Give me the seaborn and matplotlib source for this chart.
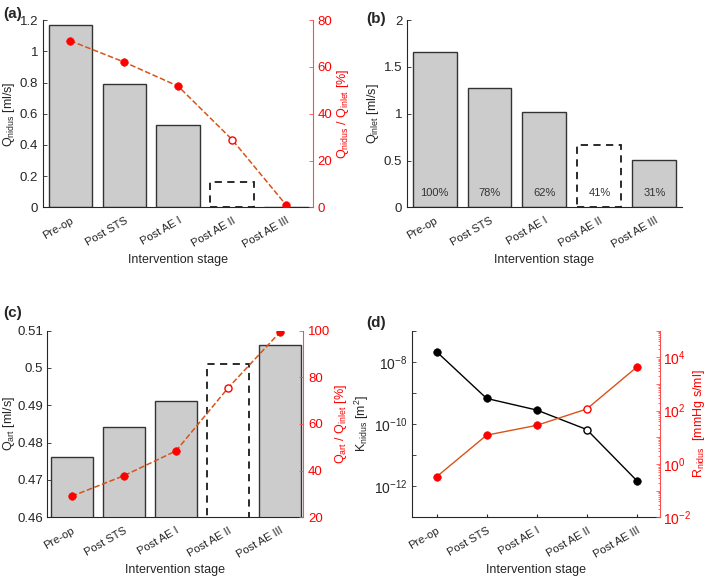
import numpy as np
import pandas as pd
import matplotlib
matplotlib.use('Agg')
import matplotlib.pyplot as plt
import seaborn as sns

sns.set_style('ticks')
plt.rcParams['font.family'] = ['Liberation Sans', 'DejaVu Sans']
plt.rcParams['mathtext.default'] = 'regular'
plt.rcParams['xtick.direction'] = 'in'
plt.rcParams['ytick.direction'] = 'in'
plt.rcParams['axes.linewidth'] = 0.8

# data
stages = ['Pre-op', 'Post STS', 'Post AE I', 'Post AE II', 'Post AE III']
q_nidus = [1.172, 0.792, 0.527, 0.164, 0.005]
nidus_pct = [71.2, 62.1, 51.8, 29.0, 1.1]
q_inlet = [1.655, 1.277, 1.018, 0.668, 0.508]
inlet_pct = ['100%', '78%', '62%', '41%', '31%']
q_art = [0.4761, 0.4841, 0.4911, 0.5011, 0.5062]
art_pct = [29.0, 37.8, 48.4, 75.4, 99.4]
k_nidus = [2.1e-8, 6.6e-10, 2.8e-10, 6.6e-11, 1.5e-12]
r_nidus = [0.33, 12, 28, 115, 4300]
estimated = 'Post AE II'   # dashed bar / open marker

GRAY = '#cccccc'
EDGE = '#333333'
ORANGE = '#D95319'
RED = '#ff0000'
AXRED = '#ff4d4d'
XFS = 8
YFS = 9.5
LFS = 9

pos = np.arange(len(stages))
est = stages.index(estimated)
filled = pos != est


def bars(ax, values):
    sns.barplot(x=stages, y=values, ax=ax, color=GRAY, edgecolor=EDGE,
                linewidth=1, width=0.8, saturation=1)
    p = ax.patches[est]
    p.set_facecolor('white')
    p.set_edgecolor('#1a1a1a')
    p.set_linestyle((0, (4, 3)))
    p.set_linewidth(1.3)
    sns.despine(ax=ax)
    ax.set_xticks(pos, stages, rotation=30, ha='right', rotation_mode='anchor')
    ax.tick_params(axis='x', length=0, labelsize=XFS, pad=6)
    ax.tick_params(axis='y', length=3, labelsize=YFS, width=0.6)
    ax.set_xlabel('Intervention stage', fontsize=LFS, color='#262626', labelpad=3)
    ax.set_xlim(-0.5, 4.5)


def pct_line(ax, values, ymin, ymax, label):
    ax2 = ax.twinx()
    vals = np.array(values)
    sns.lineplot(x=pos, y=vals, ax=ax2, color=ORANGE, linestyle='--', linewidth=1.1)
    sns.scatterplot(x=pos[filled], y=vals[filled], ax=ax2, color=RED, s=30,
                    edgecolor=RED, zorder=5)
    sns.scatterplot(x=pos[~filled], y=vals[~filled], ax=ax2, color='white', s=26,
                    edgecolor=RED, linewidth=1, zorder=5)
    ax2.set_ylim(ymin, ymax)
    for s in ['top', 'left', 'bottom']:
        ax2.spines[s].set_visible(False)
    ax2.spines['right'].set_color(AXRED)
    ax2.tick_params(axis='y', colors=AXRED, labelcolor=RED, length=3, labelsize=YFS, width=0.6)
    ax2.set_ylabel(label, color=RED, fontsize=LFS, labelpad=2)
    return ax2


fig = plt.figure(figsize=(7.08, 5.76), dpi=100)
axa = fig.add_axes([0.061, 0.640, 0.381, 0.325])
axb = fig.add_axes([0.575, 0.640, 0.388, 0.325])
axc = fig.add_axes([0.066, 0.102, 0.362, 0.324])
axd = fig.add_axes([0.582, 0.102, 0.350, 0.324])

# (a)
bars(axa, q_nidus)
axa.set_ylim(0, 1.2)
axa.set_yticks([0, 0.2, 0.4, 0.6, 0.8, 1, 1.2], ['0', '0.2', '0.4', '0.6', '0.8', '1', '1.2'])
axa.set_ylabel('Q$_{nidus}$ [ml/s]', fontsize=LFS, labelpad=2)
a2 = pct_line(axa, nidus_pct, 0, 80, 'Q$_{nidus}$ / Q$_{inlet}$ [%]')
a2.set_yticks([0, 20, 40, 60, 80])

# (b)
bars(axb, q_inlet)
axb.set_ylim(0, 2)
axb.set_yticks([0, 0.5, 1, 1.5, 2], ['0', '0.5', '1', '1.5', '2'])
axb.set_ylabel('Q$_{inlet}$ [ml/s]', fontsize=LFS, labelpad=2)
for i, t in enumerate(inlet_pct):
    axb.text(i, 0.156, t, ha='center', va='center', fontsize=XFS, color='#333333')

# (c)
bars(axc, q_art)
axc.set_ylim(0.46, 0.51)
axc.set_xlim(-0.48, 4.44)
axc.set_yticks([0.46, 0.47, 0.48, 0.49, 0.5, 0.51],
               ['0.46', '0.47', '0.48', '0.49', '0.5', '0.51'])
axc.tick_params(axis='y', pad=2.5)
axc.set_ylabel('Q$_{art}$ [ml/s]', fontsize=LFS, labelpad=0)
c2 = pct_line(axc, art_pct, 20, 100, 'Q$_{art}$ / Q$_{inlet}$ [%]')
c2.set_yticks([20, 40, 60, 80, 100])

# (d)
k = np.array(k_nidus)
r = np.array(r_nidus)
sns.lineplot(x=pos, y=k, ax=axd, color='black', linewidth=1)
sns.scatterplot(x=pos[filled], y=k[filled], ax=axd, color='black', s=30, edgecolor='black', zorder=5)
sns.scatterplot(x=pos[~filled], y=k[~filled], ax=axd, color='white', s=26,
                edgecolor='black', linewidth=1, zorder=5)
axd.set_yscale('log')
axd.set_ylim(1e-13, 1e-7)
kt = [10.0 ** e for e in range(-13, -6)]
axd.set_yticks(kt, ['$10^{%d}$' % e if e % 2 == 0 else '' for e in range(-13, -6)])
axd.yaxis.set_minor_locator(matplotlib.ticker.NullLocator())
axd.set_xlim(-0.49, 4.46)
axd.set_xticks(pos, stages, rotation=30, ha='right', rotation_mode='anchor')
axd.tick_params(axis='x', length=2, labelsize=XFS, pad=6)
axd.tick_params(axis='y', length=3, labelsize=10, width=0.6)
axd.set_xlabel('Intervention stage', fontsize=LFS, color='#262626', labelpad=3)
axd.set_ylabel('K$_{nidus}$ [m$^{2}$]', fontsize=LFS, labelpad=2)
sns.despine(ax=axd)

d2 = axd.twinx()
sns.lineplot(x=pos, y=r, ax=d2, color=ORANGE, linewidth=1)
sns.scatterplot(x=pos[filled], y=r[filled], ax=d2, color=RED, s=30, edgecolor=RED, zorder=5)
sns.scatterplot(x=pos[~filled], y=r[~filled], ax=d2, color='white', s=26,
                edgecolor=RED, linewidth=1, zorder=5)
d2.set_yscale('log')
d2.set_ylim(1e-2, 1e5)
rt = [10.0 ** e for e in range(-2, 6)]
d2.set_yticks(rt, ['$10^{%d}$' % e if e % 2 == 0 and e < 5 else '' for e in range(-2, 6)])
d2.yaxis.set_minor_locator(matplotlib.ticker.LogLocator(subs=np.arange(2, 10), numticks=20))
d2.yaxis.set_minor_formatter(matplotlib.ticker.NullFormatter())
for s in ['top', 'left', 'bottom']:
    d2.spines[s].set_visible(False)
d2.spines['right'].set_color(AXRED)
d2.tick_params(axis='y', which='both', colors=AXRED, labelcolor=RED, labelsize=10, width=0.6, pad=2.5)
d2.tick_params(axis='y', which='major', length=3)
d2.tick_params(axis='y', which='minor', length=1.5)
d2.set_ylabel('R$_{nidus}$  [mmHg s/ml]', color=RED, fontsize=LFS, labelpad=0)

# panel letters
for t, x, y in [('(a)', 0.004, 0.988), ('(b)', 0.518, 0.98), ('(c)', 0.004, 0.468), ('(d)', 0.518, 0.452)]:
    fig.text(x, y, t, fontsize=11, fontweight='bold', ha='left', va='top')

fig.savefig('out.png', dpi=100)
